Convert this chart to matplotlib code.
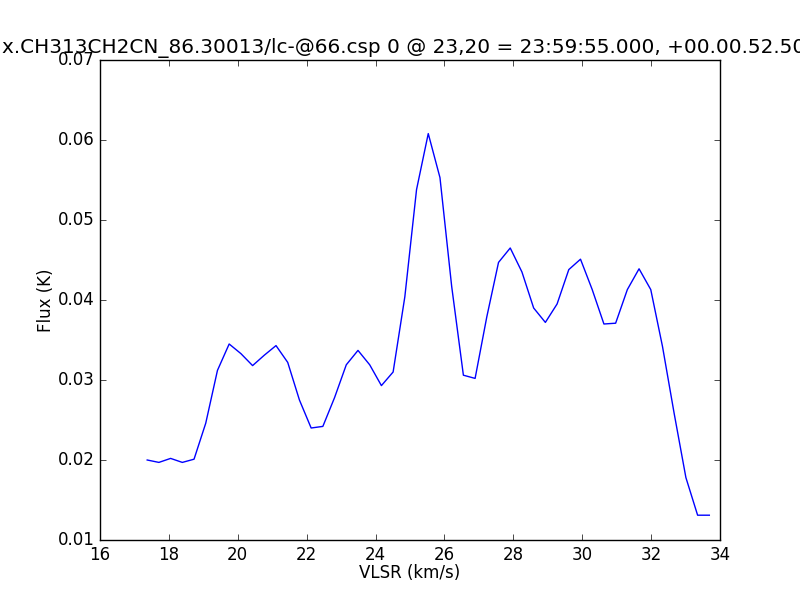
import matplotlib
matplotlib.use("Agg")
import matplotlib.pyplot as plt

plt.style.use("classic")

vlsr = [17.37, 17.71, 18.05, 18.39, 18.73, 19.07, 19.41, 19.75, 20.09, 20.43,
        20.77, 21.11, 21.45, 21.79, 22.13, 22.47, 22.81, 23.15, 23.49, 23.83,
        24.17, 24.51, 24.85, 25.19, 25.53, 25.87, 26.21, 26.55, 26.89, 27.23,
        27.57, 27.91, 28.25, 28.59, 28.93, 29.27, 29.61, 29.95, 30.29, 30.63,
        30.97, 31.31, 31.65, 31.99, 32.33, 32.67, 33.01, 33.35, 33.69]
flux = [0.0200, 0.0197, 0.0202, 0.0197, 0.0201, 0.0246, 0.0312, 0.0345, 0.0333, 0.0318,
        0.0331, 0.0343, 0.0322, 0.0275, 0.0240, 0.0242, 0.0278, 0.0319, 0.0337, 0.0319,
        0.0293, 0.0310, 0.0404, 0.0538, 0.0608, 0.0553, 0.0417, 0.0306, 0.0302, 0.0379,
        0.0447, 0.0465, 0.0435, 0.0390, 0.0372, 0.0395, 0.0438, 0.0451, 0.0413, 0.0370,
        0.0371, 0.0413, 0.0439, 0.0413, 0.0342, 0.0258, 0.0178, 0.0131, 0.0131]

title = "x.CH313CH2CN_86.30013/lc-@66.csp 0 @ 23,20 = 23:59:55.000, +00.00.52.500"

fig = plt.figure(figsize=(8, 6), dpi=100, facecolor="white")
ax = fig.add_axes([0.125, 0.1, 0.775, 0.8])
ax.plot(vlsr, flux, color="b", linewidth=1)
ax.set_xlim(16, 34)
ax.set_ylim(0.01, 0.07)
ax.set_xticks([16, 18, 20, 22, 24, 26, 28, 30, 32, 34])
ax.set_yticks([0.01, 0.02, 0.03, 0.04, 0.05, 0.06, 0.07])
ax.set_xlabel("VLSR (km/s)", labelpad=0.5)
ax.set_ylabel("Flux (K)", labelpad=2)
ax.set_title(title)
fig.savefig("out.png", dpi=100, facecolor="white")
